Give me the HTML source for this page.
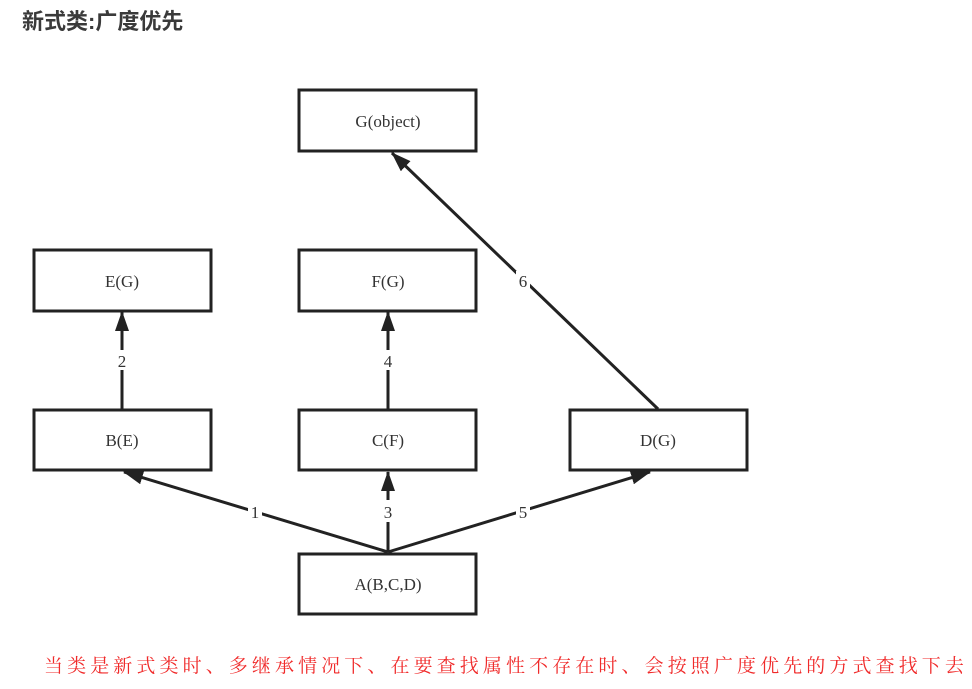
<!DOCTYPE html>
<html><head><meta charset="utf-8"><style>
body{margin:0;width:972px;height:689px;background:#fff;overflow:hidden;position:relative}
.t{position:absolute;left:22px;top:4px;font:bold 22px "Liberation Sans","Noto Sans CJK SC",sans-serif;color:#3a3a3a}
.r{position:absolute;left:44px;top:651px;font:19px "Liberation Serif","Noto Serif CJK SC",serif;color:#f02a2a;letter-spacing:4.1px;white-space:nowrap}
</style></head><body>
<div class="t">新式类:广度优先</div>
<svg width="972" height="689" style="position:absolute;left:0;top:0" font-family="Liberation Serif,serif" font-size="17" fill="#333">
<defs><marker id="a" markerWidth="10" markerHeight="10" refX="9" refY="5" orient="auto" markerUnits="userSpaceOnUse"><path d="M0,0 L20,5 L0,10z" fill="#222" transform="scale(0.5,1)"/></marker>
<marker id="b" viewBox="0 0 20 14" markerWidth="20" markerHeight="14" refX="19" refY="7" orient="auto" markerUnits="userSpaceOnUse"><path d="M0,0 L20,7 L0,14z" fill="#222"/></marker></defs>
<g fill="none" stroke="#222" stroke-width="3">
<rect x="299" y="90" width="177" height="61"/>
<rect x="34" y="250" width="177" height="61"/>
<rect x="299" y="250" width="177" height="61"/>
<rect x="34" y="410" width="177" height="60"/>
<rect x="299" y="410" width="177" height="60"/>
<rect x="570" y="410" width="177" height="60"/>
<rect x="299" y="554" width="177" height="60"/>
<g marker-end="url(#b)">
<line x1="388" y1="552" x2="124" y2="472"/>
<line x1="388" y1="552" x2="388" y2="472"/>
<line x1="388" y1="552" x2="650" y2="472"/>
<line x1="122" y1="409" x2="122" y2="312"/>
<line x1="388" y1="409" x2="388" y2="312"/>
<line x1="658" y1="409" x2="392" y2="153"/>
</g></g>
<g fill="#fff"><rect x="248" y="501" width="14" height="20"/><rect x="381" y="500" width="14" height="22"/><rect x="516" y="501" width="14" height="20"/><rect x="115" y="350" width="14" height="20"/><rect x="381" y="350" width="14" height="20"/><rect x="516" y="271" width="14" height="20"/></g>
<g text-anchor="middle">
<text x="388" y="127">G(object)</text>
<text x="122" y="287">E(G)</text>
<text x="388" y="287">F(G)</text>
<text x="122" y="446">B(E)</text>
<text x="388" y="446">C(F)</text>
<text x="658" y="446">D(G)</text>
<text x="388" y="590">A(B,C,D)</text>
<text x="255" y="518">1</text><text x="388" y="518">3</text><text x="523" y="518">5</text>
<text x="122" y="367">2</text><text x="388" y="367">4</text><text x="523" y="287">6</text>
</g></svg>
<div class="r">当类是新式类时、多继承情况下、在要查找属性不存在时、会按照广度优先的方式查找下去</div>
</body></html>
